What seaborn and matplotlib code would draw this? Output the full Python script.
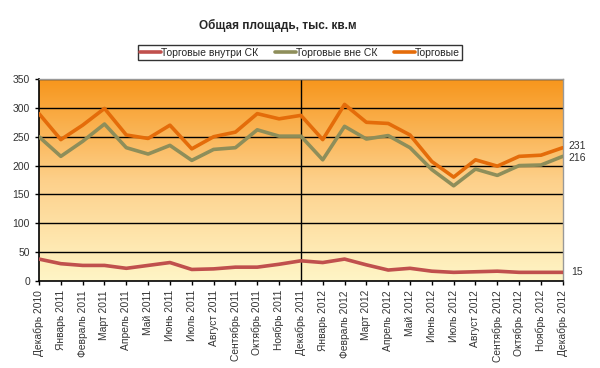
import numpy as np
import pandas as pd
import seaborn as sns
import matplotlib
matplotlib.use("Agg")
import matplotlib.pyplot as plt
from matplotlib.colors import LinearSegmentedColormap
from matplotlib.lines import Line2D

months = ["Декабрь 2010", "Январь 2011", "Февраль 2011", "Март 2011", "Апрель 2011",
          "Май 2011", "Июнь 2011", "Июль 2011", "Август 2011", "Сентябрь 2011",
          "Октябрь 2011", "Ноябрь 2011", "Декабрь 2011", "Январь 2012", "Февраль 2012",
          "Март 2012", "Апрель 2012", "Май 2012", "Июнь 2012", "Июль 2012",
          "Август 2012", "Сентябрь 2012", "Октябрь 2012", "Ноябрь 2012", "Декабрь 2012"]

inside_sk = [38, 30, 27, 27, 22, 27, 32, 20, 21, 24, 24, 29, 35,
             32, 38, 28, 19, 22, 17, 15, 16, 17, 15, 15, 15]
outside_sk = [250, 216, 242, 272, 231, 220, 235, 209, 228, 231, 262, 251, 251,
              210, 268, 246, 252, 231, 193, 165, 194, 183, 200, 201, 216]
total = [290, 245, 270, 299, 253, 247, 270, 229, 250, 258, 290, 281, 287,
         245, 306, 275, 273, 253, 207, 180, 210, 199, 216, 218, 231]

series_names = ["Торговые внутри СК", "Торговые вне СК", "Торговые"]
colors = ["#C0504D", "#8E8E5A", "#E46C0A"]
title = "Общая площадь, тыс. кв.м"

rows = []
for name, vals in zip(series_names, [inside_sk, outside_sk, total]):
    for i, v in enumerate(vals):
        rows.append({"idx": i, "value": v, "series": name})
df = pd.DataFrame(rows)

sns.set_style("white")
plt.rcParams["font.family"] = ["Liberation Sans", "DejaVu Sans"]

fig = plt.figure(figsize=(6.0, 3.68), dpi=100)
ax = fig.add_axes([0.065, 0.2364, 0.873, 0.5489])

# gradient background
cmap = LinearSegmentedColormap.from_list("bg", ["#FFF5C6", "#FDD08A", "#F7961C"])
grad = np.linspace(0, 1, 256).reshape(-1, 1)
ax.imshow(grad, extent=[0, len(months) - 1, 0, 350], origin="lower",
          aspect="auto", cmap=cmap, zorder=0)

for y in range(50, 351, 50):
    ax.axhline(y, color="black", lw=1.0, zorder=1)
ax.axvline(12, color="black", lw=1.0, zorder=1)

sns.lineplot(data=df, x="idx", y="value", hue="series", hue_order=series_names,
             palette=colors, linewidth=2.6, ax=ax, legend=False, zorder=3,
             solid_joinstyle="round", solid_capstyle="round")

ax.set_xlim(0, len(months) - 1)
ax.set_ylim(0, 350)
ax.set_yticks(range(0, 351, 50))
ax.set_xticks(range(len(months)))
ax.set_xticklabels(months, rotation=90, fontsize=7.4, color="#333333")
ax.tick_params(axis="y", labelsize=7.5, colors="#333333", length=3, direction="out", left=True, width=1)
ax.tick_params(axis="x", length=3, direction="out", bottom=True, width=1, color="black")
ax.tick_params(axis="y", color="black")
ax.set_xlabel("")
ax.set_ylabel("")

for s in ["left", "bottom"]:
    ax.spines[s].set_color("black")
    ax.spines[s].set_linewidth(1.2)
for s in ["top", "right"]:
    ax.spines[s].set_color("#999999")
    ax.spines[s].set_linewidth(1.0)

last = len(months) - 1
ax.annotate(str(total[-1]), (last, total[-1]), xytext=(4, 1), textcoords="offset points",
            fontsize=7.5, color="#333333", va="center", annotation_clip=False)
ax.annotate(str(outside_sk[-1]), (last, outside_sk[-1]), xytext=(4, -1), textcoords="offset points",
            fontsize=7.5, color="#333333", va="center", annotation_clip=False)
ax.annotate(str(inside_sk[-1]), (last, inside_sk[-1]), xytext=(6, 0), textcoords="offset points",
            fontsize=7.5, color="#333333", va="center", annotation_clip=False)

fig.text(0.463, 0.93, title, ha="center", va="center", fontsize=8.5, fontweight="bold")

handles = [Line2D([0], [0], color=c, lw=2.6) for c in colors]
leg = fig.legend(handles, series_names, loc="center", bbox_to_anchor=(0.5, 0.857),
                 ncol=3, fontsize=7.5, frameon=True, fancybox=False, edgecolor="black",
                 handlelength=2.0, handletextpad=0.0, columnspacing=1.6,
                 borderpad=0.25, borderaxespad=0)
leg.get_frame().set_linewidth(1.0)

fig.savefig("out.png", dpi=100)
